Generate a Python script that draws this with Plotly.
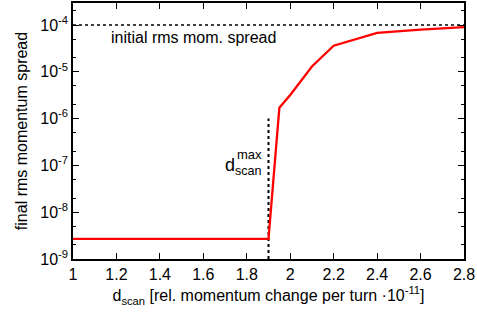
import plotly.graph_objects as go

# data
d_scan = [1.0, 1.2, 1.4, 1.6, 1.8, 1.9, 1.95, 2.0, 2.1, 2.2, 2.4, 2.6, 2.8]
spread = [2.7e-9, 2.7e-9, 2.68e-9, 2.68e-9, 2.7e-9, 2.7e-9, 1.7e-6, 3.2e-6, 1.3e-5, 3.6e-5, 6.8e-5, 8.0e-5, 9.0e-5]
initial_x = [1.0, 2.8]
initial_y = [1e-4, 1e-4]
dmax_x = [1.9, 1.9]
dmax_y = [1e-9, 1e-6]
x_ticks = [1, 1.2, 1.4, 1.6, 1.8, 2, 2.2, 2.4, 2.6, 2.8]
x_ticktext = ["1", "1.2", "1.4", "1.6", "1.8", "2", "2.2", "2.4", "2.6", "2.8"]
y_ticks = [1e-9, 1e-8, 1e-7, 1e-6, 1e-5, 1e-4]
y_ticktext = ["10<sup>-9</sup>", "10<sup>-8</sup>", "10<sup>-7</sup>", "10<sup>-6</sup>", "10<sup>-5</sup>", "10<sup>-4</sup>"]
y_minor = [m * 10.0 ** e for e in range(-9, -3) for m in (2, 5)]

font = "Liberation Sans, Arial, Helvetica, sans-serif"
fs = 16

fig = go.Figure()
fig.add_trace(go.Scatter(x=initial_x, y=initial_y, mode="lines",
                         line=dict(color="black", width=1.5, dash="3px,3px"), hoverinfo="skip"))
fig.add_trace(go.Scatter(x=dmax_x, y=dmax_y, mode="lines",
                         line=dict(color="black", width=2, dash="3px,3px"), hoverinfo="skip"))
fig.add_trace(go.Scatter(x=d_scan, y=spread, mode="lines",
                         line=dict(color="#ff0000", width=2.3)))

fig.add_annotation(x=1.555, y=-4.27, xref="x", yref="y", text="initial rms mom. spread",
                   showarrow=False, font=dict(size=fs, color="black", family=font))
fig.add_annotation(x=1.88, y=-7.02, xref="x", yref="y", text="d<sub>scan</sub>",
                   showarrow=False, xanchor="right", font=dict(size=fs + 2, color="black", family=font))
fig.add_annotation(x=1.88, y=-6.76, xref="x", yref="y", text="max",
                   showarrow=False, xanchor="right", font=dict(size=13, color="black", family=font))

axis_common = dict(showgrid=False, zeroline=False, showline=True, linecolor="black", linewidth=1.5,
                   mirror="ticks", ticks="inside", ticklen=6, tickcolor="black", automargin=False,
                   tickfont=dict(size=fs, color="black", family=font))

fig.update_xaxes(range=[1, 2.8], tickvals=x_ticks, ticktext=x_ticktext,
                 title=dict(text="d<sub>scan</sub> [rel. momentum change per turn ·10<sup>-11</sup>]",
                            font=dict(size=fs, color="black", family=font), standoff=8),
                 **axis_common)
fig.update_yaxes(type="log", range=[-9, -3.53], tickvals=y_ticks, ticktext=y_ticktext,
                 minor=dict(tickvals=y_minor, ticks="inside", ticklen=3, tickcolor="black"),
                 title=dict(text="final rms momentum spread",
                            font=dict(size=fs, color="black", family=font), standoff=9),
                 **axis_common)

fig.update_layout(width=477, height=315, showlegend=False,
                  margin=dict(l=73, r=13, t=3, b=56),
                  plot_bgcolor="white", paper_bgcolor="white",
                  font=dict(family=font, color="black"))

fig.write_html("out.html", config={"displayModeBar": False},
               post_script="document.body.style.margin='0';document.body.style.overflow='hidden';")
